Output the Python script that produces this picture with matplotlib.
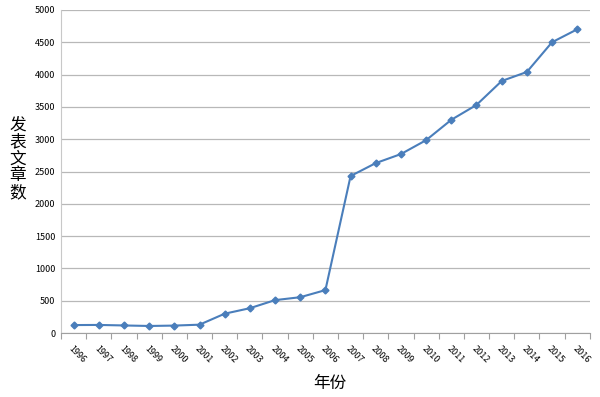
import matplotlib
matplotlib.use('Agg')
import matplotlib.pyplot as plt
import numpy as np

plt.rcParams['font.family'] = ['Noto Sans CJK SC', 'DejaVu Sans']

years = [str(y) for y in range(1996, 2017)]
papers = [124, 126, 118, 110, 116, 130, 300, 385, 510, 555, 665,
          2430, 2630, 2770, 2985, 3300, 3530, 3900, 4040, 4500, 4700]

fig = plt.figure(figsize=(6, 3.97), dpi=100)
ax = fig.add_axes([0.1017, 0.161, 0.8813, 0.814])

x = np.arange(len(years))
ax.plot(x, papers, color='#4a7ebb', linewidth=1.5, marker='D', markersize=3.5)

ax.set_xlim(-0.5, len(years) - 0.5)
ax.set_ylim(0, 5000)
ax.set_yticks(range(0, 5001, 500))
ax.tick_params(axis='y', length=0, labelsize=6.5, pad=4)
# tick marks sit between categories, labels sit on them
ax.set_xticks(np.arange(-0.5, len(years), 1), minor=False)
ax.set_xticklabels([])
ax.set_xticks(x, minor=True)
ax.set_xticklabels(years, minor=True, rotation=-45, ha='left', va='top',
                   rotation_mode='anchor', fontsize=6.5)
ax.tick_params(axis='x', which='major', length=4, color='#a0a0a0')
ax.tick_params(axis='x', which='minor', length=0, pad=8)

ax.grid(axis='y', color='#b8b8b8', linewidth=0.9)
ax.set_axisbelow(True)
for s in ['top', 'right']:
    ax.spines[s].set_visible(False)
ax.spines['left'].set_color('#c8c8c8')
ax.spines['bottom'].set_color('#a0a0a0')

fig.text(0.03, 0.60, '发\n表\n文\n章\n数', fontsize=12, ha='center', va='center',
         linespacing=1.0)
fig.text(0.55, 0.035, '年份', fontsize=12, ha='center', va='center')

fig.savefig('out.png', dpi=100)
